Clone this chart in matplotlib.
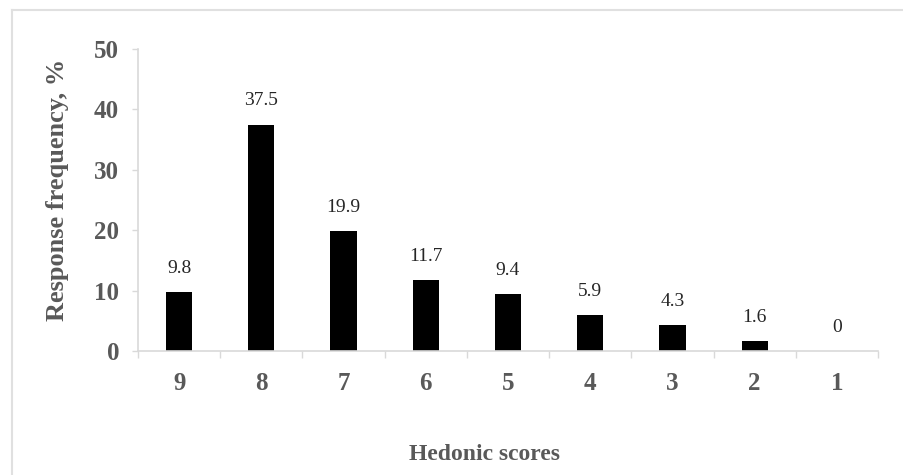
import numpy as np
import matplotlib
matplotlib.use("Agg")
import matplotlib.pyplot as plt
from matplotlib.lines import Line2D

# Data
scores = ['9', '8', '7', '6', '5', '4', '3', '2', '1']
freq = [9.8, 37.5, 19.9, 11.7, 9.4, 5.9, 4.3, 1.6, 0]
freq_labels = ['9.8', '37.5', '19.9', '11.7', '9.4', '5.9', '4.3', '1.6', '0']
yticks = [0, 10, 20, 30, 40, 50]

plt.rcParams['font.family'] = ['Liberation Serif', 'DejaVu Serif']

gray_txt = '#595959'
axis_col = '#d9d9d9'

fig = plt.figure(figsize=(9.04, 4.75), dpi=100)
ax = fig.add_axes([138 / 904, 1 - 351 / 475, (878 - 138) / 904, (351 - 49) / 475])

x = np.arange(len(scores))
bars = ax.bar(x, freq, width=0.32, color='black')

# value labels above bars
for xi, v, lab in zip(x, freq, freq_labels):
    ax.annotate(lab, (xi, v), xytext=(0, 11), textcoords='offset points',
                ha='center', va='bottom', fontsize=14, color='#262626')

ax.set_xlim(-0.5, len(scores) - 0.5)
ax.set_ylim(0, 50)

# category tick marks at the boundaries, labels at the centres
ax.set_xticks(np.arange(-0.5, len(scores), 1.0))
ax.set_xticklabels([])
ax.set_xticks(x, minor=True)
ax.set_xticklabels(scores, minor=True)
ax.tick_params(axis='x', which='major', length=5, color=axis_col, width=1)
ax.tick_params(axis='x', which='minor', length=0, pad=15, labelsize=18,
               labelcolor=gray_txt)
for t in ax.get_xticklabels(minor=True):
    t.set_fontweight('bold')

ax.set_yticks(yticks)
ax.set_yticklabels([str(v) for v in yticks], fontweight='bold')
ax.tick_params(axis='y', length=4.5, color=axis_col, width=1, pad=9,
               labelsize=18, labelcolor=gray_txt)

for s in ['top', 'right']:
    ax.spines[s].set_visible(False)
for s in ['left', 'bottom']:
    ax.spines[s].set_color(axis_col)
    ax.spines[s].set_linewidth(1.2)

fig.text(58 / 904, 1 - 190 / 475, 'Response frequency, %', rotation=90,
         ha='center', va='center', fontsize=19, fontweight='bold', color=gray_txt)
fig.text(485 / 904, 1 - 454 / 475, 'Hedonic scores', ha='center', va='center',
         fontsize=17, fontweight='bold', color=gray_txt)

# light outer frame (top and left edges visible)
fig.add_artist(Line2D([12 / 904, 12 / 904], [0, 1 - 10 / 475],
                      transform=fig.transFigure, color='#e0e0e0', lw=1.5))
fig.add_artist(Line2D([12 / 904, 1], [1 - 10 / 475, 1 - 10 / 475],
                      transform=fig.transFigure, color='#e0e0e0', lw=1.5))

fig.savefig('out.png', dpi=100)
